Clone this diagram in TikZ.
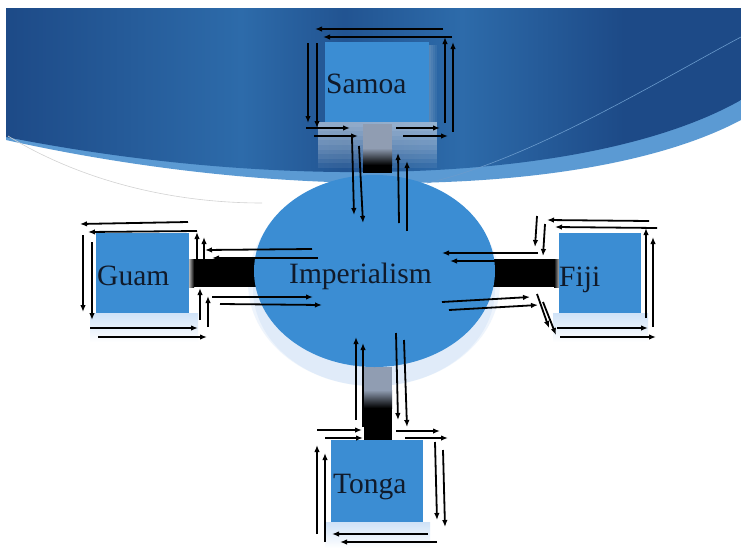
\documentclass[tikz,border=0pt]{standalone}
\usepackage{fontspec}
\setmainfont{Liberation Serif}
\usetikzlibrary{arrows.meta,shapes.geometric}
\definecolor{boxblue}{HTML}{3B8DD3}
\definecolor{banddark}{HTML}{1D4A87}
\definecolor{bandmid}{HTML}{2D6BAA}
\definecolor{stripblue}{HTML}{5B9AD3}
\definecolor{glowblue}{HTML}{CFE2F7}
\definecolor{bargray}{HTML}{909DB2}
\definecolor{txt}{HTML}{101A2A}
\definecolor{thinline}{HTML}{6A9BCD}
\pgfdeclarehorizontalshading{bandshade}{100bp}{color(0bp)=(banddark); color(25bp)=(banddark); color(41bp)=(bandmid); color(48bp)=(banddark!70!bandmid); color(56bp)=(bandmid); color(67bp)=(banddark); color(100bp)=(banddark)}
\tikzset{
  box/.style={rectangle, fill=boxblue, minimum height=80pt, inner sep=0pt, draw=none},
  lbl/.style={anchor=base west, inner sep=0pt, text=txt, font=\fontsize{29.5}{32}\selectfont},
  arr/.style={-{Latex[length=7pt,width=5.5pt]}, line width=1.8pt, black},
}
\begin{document}
\begin{tikzpicture}[x=1pt,y=-1pt]
\useasboundingbox (0,0) rectangle (741,549);
\fill[white] (0,0) rectangle (741,549);
% header band
\fill[stripblue] (6,8) -- (741,8) -- (741,120) .. controls (600,195) and (300,205) .. (6,140) -- cycle;
\shade[shading=bandshade] (6,8) -- (741,8) -- (741,100) .. controls (600,180) and (300,195) .. (6,137) -- cycle;
\draw[gray!35, line width=0.6pt] (8,136) .. controls (80,180) and (170,203) .. (262,203);
\draw[thinline, line width=0.6pt] (741,37) .. controls (660,80) and (530,160) .. (427,183);
% glows
\fill[glowblue, opacity=.35] (374,283) ellipse [x radius=126pt, y radius=103pt];
\fill[glowblue, opacity=.45] (374,289) ellipse [x radius=121pt, y radius=97pt];
\shade[top color=glowblue, bottom color=white] (90,313) rectangle (198,342);
\shade[top color=glowblue, bottom color=white] (553,313) rectangle (648,342);
\shade[top color=glowblue, bottom color=white] (325,522) rectangle (430,548);
\foreach \i in {1,...,10}
  \fill[white, opacity=.07] (318,122) rectangle (437,122+4.6*\i);
\foreach \i in {1,...,4}
  \fill[white, opacity=.06] (429,45) rectangle (429+2*\i,122);
% bars
\fill[bargray] (363,124) rectangle (392,148);
\shade[top color=bargray, bottom color=black] (363,148) rectangle (392,165);
\fill[black] (363,165) rectangle (392,173);
\fill[bargray] (364,367) rectangle (392,390);
\shade[top color=bargray, bottom color=black] (364,390) rectangle (392,408);
\fill[black] (364,408) rectangle (392,440);
\fill[black] (194,259) rectangle (258,287);
\shade[left color=gray!60, right color=black] (189,259) rectangle (194,287);
\fill[black] (490,259) rectangle (554,287);
\shade[left color=black, right color=gray!60] (554,259) rectangle (559,287);
% nodes
\node[ellipse, fill=boxblue, minimum width=241pt, minimum height=192pt, inner sep=0pt] (imp) at (374.5,271) {};
\node[box, minimum width=104pt] (samoa) at (377,82) {};
\node[box, minimum width=93pt] (guam) at (142.5,273) {};
\node[box, minimum width=82pt] (fiji) at (600,273) {};
\node[box, minimum width=92pt, minimum height=82pt] (tonga) at (377,481) {};
\node[lbl] (impt) at (289,283) {Imperialism};
\node[lbl] (samoat) at (326,93) {Samoa};
\node[lbl] (guamt) at (97,285) {Guam};
\node[lbl] (fijit) at (559,286) {Fiji};
\node[lbl] (tongat) at (333,493) {Tonga};
% arrows Samoa
\foreach \a/\b/\c/\d in {443/29/315/29, 452/37/323/37, 308/43/308/123, 317/43/317/128,
  306/128/350/128, 314/136/358/136, 396/128/440/128, 403/136/448/136,
  445/123/445/37, 453/132/453/42, 352/138/354/215, 359/146/363/223,
  399/223/398/153, 407/231/407/161}
  \draw[arr] (\a,\b) -- (\c,\d);
% arrows Guam
\foreach \a/\b/\c/\d in {188/222/80/224, 197/231/88/232, 83/235/83/312, 92/242/92/320,
  90/328/198/328, 98/337/207/337, 200/320/200/288, 208/327/208/296,
  197/260/197/232, 204/260/204/237, 312/249/205/250, 318/258/212/258,
  212/297/313/297, 220/304/322/305}
  \draw[arr] (\a,\b) -- (\c,\d);
% arrows Fiji
\foreach \a/\b/\c/\d in {537/216/535/247, 545/224/543/256, 649/221/547/220, 657/228/555/227,
  646/318/646/228, 653/327/653/237, 557/328/648/328, 560/337/656/337,
  537/294/549/328, 543/302/556/335, 538/253/442/253, 545/261/450/261,
  442/302/530/297, 449/310/538/305}
  \draw[arr] (\a,\b) -- (\c,\d);
% arrows Tonga
\foreach \a/\b/\c/\d in {356/420/356/337, 363/427/363/343, 396/333/398/420, 404/340/407/427,
  317/430/362/430, 325/438/363/438, 396/431/440/431, 405/438/448/438,
  435/442/437/520, 443/450/445/527, 428/534/332/534, 437/542/340/542,
  317/534/317/445, 325/542/325/453}
  \draw[arr] (\a,\b) -- (\c,\d);
\end{tikzpicture}
\end{document}
